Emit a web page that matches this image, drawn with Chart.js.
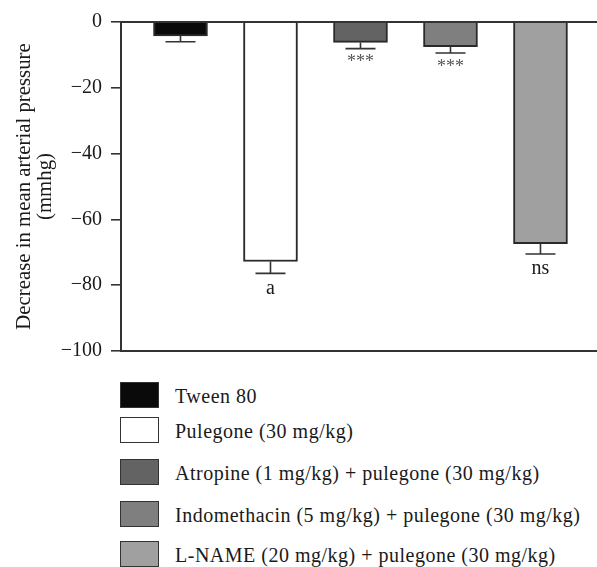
<!DOCTYPE html>
<html>
<head>
<meta charset="utf-8">
<script src="https://cdn.jsdelivr.net/npm/chart.js@4.4.1/dist/chart.umd.min.js"></script>
<style>
  html, body { margin: 0; padding: 0; background: #fff; }
  #wrap { position: relative; width: 597px; height: 567px; overflow: hidden; background: #fff; }
  #c { position: absolute; left: 0; top: 0; }
  #legend { position: absolute; left: 120px; top: 381px; font-family: "Liberation Serif", "DejaVu Serif", serif; font-size: 20px; letter-spacing: 0.5px; color: #1a1a1a; }
  .row { display: flex; align-items: center; height: 27px; white-space: nowrap; }
  .row:nth-child(2) { margin-top: 8px; }
  .row:nth-child(3) { margin-top: 15px; }
  .row:nth-child(4) { margin-top: 15px; }
  .row:nth-child(5) { margin-top: 13px; }
  .box { width: 37px; height: 24px; border: 1.5px solid #333; margin-right: 16px; flex: none; }
  .lbl { position: relative; top: 2px; }
</style>
</head>
<body>
<div id="wrap">
  <canvas id="c" width="597" height="372"></canvas>
  <div id="legend"></div>
</div>
<script>
const categories = [
  "Tween 80",
  "Pulegone (30 mg/kg)",
  "Atropine (1 mg/kg) + pulegone (30 mg/kg)",
  "Indomethacin (5 mg/kg) + pulegone (30 mg/kg)",
  "L-NAME (20 mg/kg) + pulegone (30 mg/kg)"
];
const meanValues = [-4.2, -72.8, -6.2, -7.5, -67.4];
const semValues = [1.8, 3.6, 1.9, 1.9, 3.1];
const significance = ["", "a", "***", "***", "ns"];
const barColors = ["#0a0a0a", "#ffffff", "#636363", "#7f7f7f", "#a0a0a0"];
const yTicks = [0, -20, -40, -60, -80, -100];
const yTitle = ["Decrease in mean arterial pressure", "(mmhg)"];

const FONT = "'Liberation Serif', 'DejaVu Serif', serif";

// HTML legend
const legend = document.getElementById('legend');
categories.forEach((name, i) => {
  const row = document.createElement('div');
  row.className = 'row';
  const box = document.createElement('div');
  box.className = 'box';
  box.style.background = barColors[i];
  const lbl = document.createElement('span');
  lbl.className = 'lbl';
  lbl.textContent = name;
  row.appendChild(box);
  row.appendChild(lbl);
  legend.appendChild(row);
});

const extrasPlugin = {
  id: 'extras',
  afterDatasetsDraw(chart) {
    const ctx = chart.ctx;
    const xs = chart.scales.x, ys = chart.scales.y;
    const area = chart.chartArea;
    ctx.save();
    // zero line (top)
    const y0 = ys.getPixelForValue(0);
    ctx.strokeStyle = '#333';
    ctx.lineWidth = 2;
    ctx.beginPath();
    ctx.moveTo(area.left, y0);
    ctx.lineTo(area.right, y0);
    ctx.stroke();
    // error bars (downward) and labels
    meanValues.forEach((v, i) => {
      const x = xs.getPixelForValue(i + 1);
      const yb = ys.getPixelForValue(v);
      const ye = ys.getPixelForValue(v - semValues[i]);
      ctx.strokeStyle = '#333';
      ctx.lineWidth = 1.6;
      ctx.beginPath();
      ctx.moveTo(x, yb);
      ctx.lineTo(x, ye);
      ctx.moveTo(x - 15, ye);
      ctx.lineTo(x + 15, ye);
      ctx.stroke();
      if (significance[i]) {
        ctx.fillStyle = significance[i] === '***' ? '#555' : '#1a1a1a';
        ctx.font = (significance[i] === '***' ? '18px ' : '20px ') + FONT;
        ctx.textAlign = 'center';
        ctx.textBaseline = 'top';
        ctx.fillText(significance[i], x, ye + 5);
      }
    });
    ctx.restore();
  }
};

new Chart(document.getElementById('c'), {
  type: 'bar',
  data: {
    datasets: [{
      data: meanValues.map((v, i) => ({ x: i + 1, y: v })),
      backgroundColor: barColors,
      borderColor: '#2a2a2a',
      borderWidth: 2,
      barThickness: 54
    }]
  },
  options: {
    responsive: false,
    devicePixelRatio: 1,
    animation: false,
    layout: { padding: { top: 22, bottom: 10, left: 0, right: 0 } },
    plugins: { legend: { display: false }, tooltip: { enabled: false } },
    scales: {
      x: {
        type: 'linear',
        offset: false,
        min: 0.339,
        max: 5.628,
        grid: { display: false, drawTicks: false },
        ticks: { display: false },
        border: { display: true, color: '#333', width: 2 }
      },
      y: {
        min: -100,
        max: 0,
        afterFit(scale) { scale.width = 121; },
        afterBuildTicks(scale) { scale.ticks = yTicks.map(v => ({ value: v })); },
        ticks: {
          stepSize: 20,
          padding: 9,
          color: '#1a1a1a',
          font: { family: FONT, size: 20 },
          callback: (v) => String(v).replace('-', '\u2212')
        },
        grid: { drawOnChartArea: false, drawTicks: true, tickLength: 10, color: '#333', lineWidth: 1.6 },
        border: { display: true, color: '#333', width: 2 },
        title: {
          display: true,
          text: yTitle,
          color: '#1a1a1a',
          font: { family: FONT, size: 20.8, lineHeight: 1.02 },
          padding: { top: 14, bottom: 0 }
        }
      }
    }
  },
  plugins: [extrasPlugin]
});
</script>
</body>
</html>
